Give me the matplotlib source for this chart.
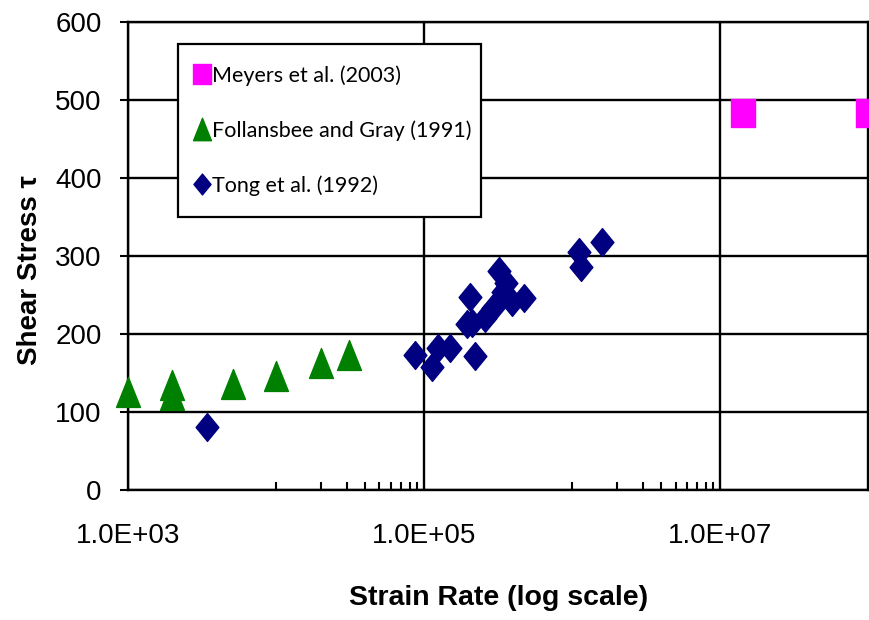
import matplotlib
matplotlib.use("Agg")
import matplotlib.pyplot as plt
from matplotlib.path import Path
from matplotlib.ticker import FixedLocator, FixedFormatter

# Meyers et al. (2003)
meyers_rate = [1.43e7, 1.0e8]
meyers_tau = [483, 483]

# Follansbee and Gray (1991)
foll_rate = [1.0e3, 2.0e3, 2.0e3, 5.1e3, 1.0e4, 2.0e4, 3.1e4]
foll_tau = [125, 134, 122, 135, 146, 163, 173]

# Tong et al. (1992)
tong_rate = [3.4e3, 8.7e4, 1.13e5, 1.24e5, 1.5e5, 1.95e5, 2.05e5, 2.2e5,
             2.1e5, 2.6e5, 2.9e5, 3.2e5, 3.6e5, 3.4e5, 3.9e5, 4.7e5,
             1.12e6, 1.15e6, 1.58e6]
tong_tau = [80, 173, 158, 182, 182, 212, 247, 171,
            214, 220, 233, 280, 265, 254, 241, 246,
            305, 286, 318]

xticks = [1e3, 1e5, 1e7]
xticklabels = ["1.0E+03", "1.0E+05", "1.0E+07"]
minor_x = [m * 1e4 for m in range(1, 10)] + [m * 1e6 for m in range(1, 10)]
yticks = [0, 100, 200, 300, 400, 500, 600]

# markers are a bit taller than wide in the original
sq = Path([(-0.85, -1), (0.85, -1), (0.85, 1), (-0.85, 1), (-0.85, -1)],
          closed=True)
tri = Path([(-0.8, -1), (0.8, -1), (0, 1), (-0.8, -1)], closed=True)
dia = Path([(0, -1), (0.82, 0), (0, 1), (-0.82, 0), (0, -1)], closed=True)

arial = ["Liberation Sans", "DejaVu Sans"]

fig = plt.figure(figsize=(8.7, 6.2), dpi=100)
ax = fig.add_axes([0.147, 0.21, 0.851, 0.755])

ax.set_xscale("log")
ax.set_xlim(1e3, 1e8)
ax.set_ylim(0, 600)

ax.plot(meyers_rate, meyers_tau, linestyle="none", marker=sq, markersize=19.5,
        color="#ff00ff", label="Meyers et al. (2003)", clip_on=False, zorder=3)
ax.plot(foll_rate, foll_tau, linestyle="none", marker=tri, markersize=21.5,
        color="#008000", label="Follansbee and Gray (1991)", clip_on=False, zorder=3)
ax.plot(tong_rate, tong_tau, linestyle="none", marker=dia, markersize=20,
        color="#000080", label="Tong et al. (1992)", clip_on=False, zorder=3)

ax.xaxis.set_major_locator(FixedLocator(xticks))
ax.xaxis.set_major_formatter(FixedFormatter(xticklabels))
ax.xaxis.set_minor_locator(FixedLocator(minor_x))
ax.xaxis.set_minor_formatter(FixedFormatter([""] * len(minor_x)))
ax.set_yticks(yticks)

ax.tick_params(axis="x", which="major", direction="out", length=0, pad=24,
               labelsize=20)
ax.tick_params(axis="x", which="minor", direction="in", length=6, width=1.5)
ax.tick_params(axis="y", which="major", direction="out", length=6, width=1.5,
               labelsize=20, pad=13)
for lab in ax.get_xticklabels() + ax.get_yticklabels():
    lab.set_fontfamily(arial)

ax.grid(True, which="major", axis="both", color="black", linewidth=1.7)
for s in ax.spines.values():
    s.set_linewidth(1.7)
    s.set_color("black")

ax.set_xlabel("Strain Rate (log scale)", fontsize=20.5, fontweight="bold",
              family=arial, labelpad=26)
ax.set_ylabel("Shear Stress \u03c4", fontsize=20, fontweight="bold",
              family=arial)
ax.yaxis.set_label_coords(-0.115, 0.47)

leg = ax.legend(loc="upper left", bbox_to_anchor=(0.0676, 0.3, 0.409, 0.653),
                mode="expand", frameon=True,
                fancybox=False, edgecolor="black", framealpha=1,
                prop={"family": "Lato", "size": 15.5}, labelspacing=1.6,
                borderpad=1.0, handletextpad=0.4, handlelength=0.2,
                borderaxespad=0, markerscale=0.75)
leg.get_frame().set_linewidth(1.6)

fig.savefig("out.png", dpi=100)
